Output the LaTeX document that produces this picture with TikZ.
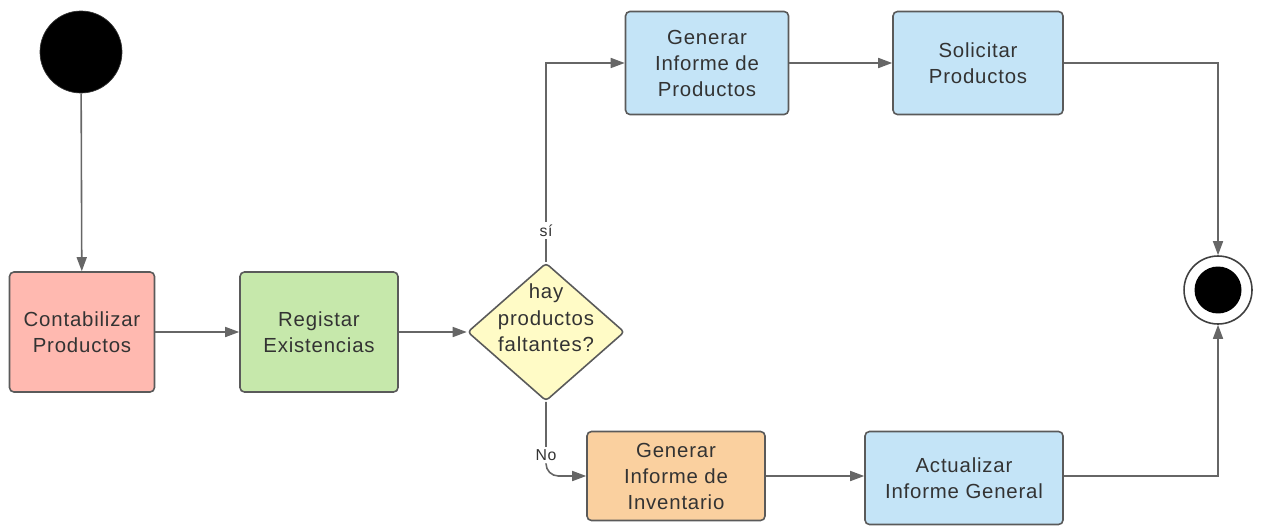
\documentclass[tikz,border=0pt]{standalone}
\usepackage{fontspec}
\setmainfont{Liberation Sans}[LetterSpace=4]
\usetikzlibrary{arrows.meta,shapes.geometric}
\definecolor{edgegray}{HTML}{666666}
\definecolor{boxline}{HTML}{5A5A5A}
\definecolor{txt}{HTML}{333333}
\definecolor{cpink}{HTML}{FFB9B0}
\definecolor{cgreen}{HTML}{C6E8AB}
\definecolor{cyellow}{HTML}{FFFBC6}
\definecolor{corange}{HTML}{FAD09F}
\definecolor{cblue}{HTML}{C4E4F7}
\tikzset{
  act/.style={draw=boxline, line width=0.9pt, rounded corners=2.5pt, align=center,
    text=txt, font=\fontsize{11.6}{14.8}\selectfont, inner sep=0pt},
  flow/.style={draw=edgegray, line width=0.9pt, -{Triangle[length=0.28cm,width=0.2cm]}},
  guard/.style={fill=white, text=txt, font=\fontsize{9}{10}\selectfont, inner sep=1.5pt},
}
\begin{document}
\begin{tikzpicture}[x=0.02cm,y=-0.02cm]
\useasboundingbox (0,0) rectangle (1266,527);

% initial and final states
\node[circle, fill=black, draw=black!80, minimum size=1.64cm, inner sep=0] (start) at (81,52) {};
\node[circle, draw=black!75, line width=0.9pt, fill=white, minimum size=1.36cm, inner sep=0] (end) at (1218,290) {};
\node[circle, fill=black, minimum size=0.94cm, inner sep=0] (endcore) at (end.center) {};

% activities
\node[act, fill=cpink, minimum width=2.9cm, minimum height=2.4cm] (cont) at (82,332) {Contabilizar\\Productos};
\node[act, fill=cgreen, minimum width=3.16cm, minimum height=2.4cm] (reg) at (319,332) {Registar\\Existencias};
\node[diamond, draw=boxline, line width=0.9pt, fill=cyellow, rounded corners=2pt,
  minimum width=3.14cm, minimum height=2.76cm, inner sep=0] (dec) at (546,332) {};
\node[align=center, text=txt, font=\fontsize{11.6}{15.2}\selectfont] (dectext) at (546,318) {hay\\productos\\faltantes?};
\node[act, fill=cblue, minimum width=3.26cm, minimum height=2.06cm] (gprod) at (707,63) {Generar\\Informe de\\Productos};
\node[act, fill=cblue, minimum width=3.4cm, minimum height=2.06cm] (sol) at (978,63) {Solicitar\\Productos};
\node[act, fill=corange, minimum width=3.56cm, minimum height=1.78cm] (ginv) at (676,476) {Generar\\Informe de\\Inventario};
\node[act, fill=cblue, minimum width=3.96cm, minimum height=1.86cm] (act) at (964,478) {Actualizar\\Informe General};

% control flow
\draw[flow] (start) -- (cont);
\draw[flow] (cont) -- (reg);
\draw[flow] (reg) -- (dec);
\draw[flow] (dec.north) |- node[guard, pos=0.08] {sí} (gprod.west);
\draw[flow, rounded corners=7pt] (dec.south) |- node[guard, pos=0.36] {No} (ginv.west);
\draw[flow] (gprod) -- (sol);
\draw[flow] (ginv.east) -- (act.west |- ginv.east);
\draw[flow] (sol.east) -| (end.north);
\draw[flow] (act.east |- ginv.east) -| (end.south);
\end{tikzpicture}
\end{document}
